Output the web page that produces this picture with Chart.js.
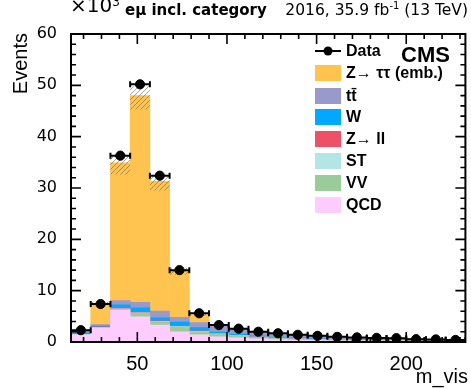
<!DOCTYPE html>
<html>
<head>
<meta charset="utf-8">
<script src="https://cdn.jsdelivr.net/npm/chart.js@4/dist/chart.umd.min.js"></script>
<style>
  html, body { margin: 0; padding: 0; background: #ffffff; }
  #wrap { width: 471px; height: 389px; }
</style>
</head>
<body>
<div id="wrap"><canvas id="c" width="471" height="389"></canvas></div>
<script>
// m_vis bin centres (GeV), 11 GeV wide bins
const binCenters = [18.5, 29.5, 40.5, 51.5, 62.5, 73.5, 84.5, 95.5, 106.5, 117.5,
                    128.5, 139.5, 150.5, 161.5, 172.5, 183.5, 194.5, 205.5, 216.5, 227.5];

// Observed events (x10^3)
const dataValues = [2.3, 7.4, 36.3, 50.2, 32.4, 14.0, 5.6, 3.3, 2.6, 2.0,
                    1.7, 1.4, 1.2, 1.0, 0.9, 0.8, 0.75, 0.55, 0.5, 0.4];

// Expected backgrounds (x10^3), listed bottom of the stack first
const qcdValues = [1.4, 2.7, 6.2, 4.9, 3.3, 2.0, 1.4, 1.0, 0.8, 0.6,
                   0.45, 0.35, 0.3, 0.25, 0.22, 0.2, 0.18, 0.15, 0.13, 0.12];
const vvValues  = [0.05, 0.1, 0.15, 0.7, 0.6, 0.9, 0.6, 0.5, 0.35, 0.3,
                   0.25, 0.2, 0.17, 0.14, 0.12, 0.1, 0.09, 0.08, 0.07, 0.06];
const stValues  = [0.05, 0.05, 0.1, 0.1, 0.1, 0.1, 0.1, 0.1, 0.1, 0.08,
                   0.07, 0.06, 0.05, 0.04, 0.04, 0.03, 0.03, 0.03, 0.02, 0.02];
const zllValues = [0.1, 0.1, 0.2, 0.15, 0.1, 0.1, 0.1, 0.05, 0.03, 0.02,
                   0.02, 0.02, 0.01, 0.01, 0.01, 0.01, 0.01, 0.01, 0.01, 0.01];
const wValues   = [0.2, 0.15, 0.6, 0.8, 0.6, 0.8, 0.6, 0.3, 0.25, 0.2,
                   0.15, 0.12, 0.1, 0.08, 0.07, 0.06, 0.05, 0.05, 0.04, 0.04];
const ttValues  = [0.4, 0.3, 0.8, 1.1, 1.3, 0.9, 1.0, 1.3, 1.0, 0.8,
                   0.7, 0.6, 0.52, 0.45, 0.4, 0.36, 0.33, 0.28, 0.24, 0.2];
const zttValues = [0.1, 4.2, 26.85, 40.25, 25.3, 9.1, 1.5, 0.2, 0.1, 0.05,
                   0.03, 0.02, 0.02, 0.01, 0.01, 0.01, 0.01, 0.01, 0.01, 0.0];

// Uncertainty on the total expectation (x10^3), upward and downward
const uncUp   = [0.05, 0.25, 1.2, 1.8, 1.1, 0.5, 0.15, 0.08, 0.06, 0.05,
                 0.04, 0.03, 0.03, 0.02, 0.02, 0.02, 0.02, 0.02, 0.01, 0.01];
const uncDown = [0.05, 0.35, 2.3, 2.7, 1.8, 0.8, 0.2, 0.1, 0.08, 0.06,
                 0.05, 0.04, 0.03, 0.03, 0.02, 0.02, 0.02, 0.02, 0.01, 0.01];

// Axis ticks
const xMajorTicks = [50, 100, 150, 200];
const yMajorTicks = [0, 10, 20, 30, 40, 50, 60];

const SANS = '"Liberation Sans", Arial, Helvetica, sans-serif';
const WIDE = '"DejaVu Sans", "Liberation Sans", sans-serif';

const stackDefs = [
  { label: 'QCD',            values: qcdValues, color: '#ffccff' },
  { label: 'VV',             values: vvValues,  color: '#99cc99' },
  { label: 'ST',             values: stValues,  color: '#b3e5e5' },
  { label: 'Z\u2192 ll',     values: zllValues, color: '#ee5068' },
  { label: 'W',              values: wValues,   color: '#00a8ff' },
  { label: 't\u0074\u0304',  values: ttValues,  color: '#9999cc' },
  { label: 'Z\u2192 \u03c4\u03c4 (emb.)', values: zttValues, color: '#fec44f' }
];

const binWidth = binCenters[1] - binCenters[0];

function stackTotal(i) {
  return stackDefs.reduce((s, d) => s + d.values[i], 0);
}

function makeHatch(ctx) {
  const c = document.createElement('canvas');
  c.width = 5; c.height = 5;
  const g = c.getContext('2d');
  g.strokeStyle = 'rgba(90,90,90,0.6)';
  g.lineWidth = 0.9;
  g.beginPath();
  g.moveTo(0, 5); g.lineTo(5, 0);
  g.moveTo(-1, 1); g.lineTo(1, -1);
  g.moveTo(4, 6); g.lineTo(6, 4);
  g.stroke();
  return ctx.createPattern(c, 'repeat');
}

// Uncertainty band and data error bars, drawn just before the data markers
const errorPlugin = {
  id: 'errors',
  beforeDatasetDraw(chart, args) {
    if (args.index !== 0) return;
    const { ctx, chartArea: a } = chart;
    const xs = chart.scales.x, ys = chart.scales.y;
    ctx.save();
    ctx.beginPath();
    ctx.rect(a.left, a.top, a.right - a.left, a.bottom - a.top);
    ctx.clip();
    ctx.fillStyle = makeHatch(ctx);
    binCenters.forEach((c, i) => {
      const tot = stackTotal(i);
      const l = xs.getPixelForValue(c - binWidth / 2);
      const r = xs.getPixelForValue(c + binWidth / 2);
      const t = ys.getPixelForValue(tot + uncUp[i]);
      const b = ys.getPixelForValue(Math.max(0, tot - uncDown[i]));
      ctx.fillRect(l, t, r - l, b - t);
    });
    ctx.strokeStyle = '#000';
    ctx.lineWidth = 2;
    binCenters.forEach((c, i) => {
      const v = dataValues[i];
      const l = xs.getPixelForValue(c - binWidth / 2);
      const r = xs.getPixelForValue(c + binWidth / 2);
      const x = xs.getPixelForValue(c);
      const y = ys.getPixelForValue(v);
      const e = Math.sqrt(v * 1000) / 1000;
      ctx.beginPath();
      ctx.moveTo(l, y); ctx.lineTo(r, y);
      ctx.moveTo(l, y - 3); ctx.lineTo(l, y + 3);
      ctx.moveTo(r, y - 3); ctx.lineTo(r, y + 3);
      ctx.moveTo(x, ys.getPixelForValue(v + e)); ctx.lineTo(x, ys.getPixelForValue(v - e));
      ctx.stroke();
    });
    ctx.restore();
  }
};

// Frame with inward ticks on all four sides
const framePlugin = {
  id: 'frame',
  afterDatasetsDraw(chart) {
    const { ctx, chartArea: a } = chart;
    const xs = chart.scales.x, ys = chart.scales.y;
    ctx.save();
    ctx.strokeStyle = '#000';
    ctx.lineWidth = 2;
    ctx.strokeRect(a.left, a.top, a.right - a.left, a.bottom - a.top);
    ctx.lineWidth = 1.6;
    ctx.beginPath();
    for (let v = 20; v <= 230; v += 10) {
      const x = xs.getPixelForValue(v);
      const len = xMajorTicks.includes(v) ? 10 : 5;
      ctx.moveTo(x, a.bottom); ctx.lineTo(x, a.bottom - len);
      ctx.moveTo(x, a.top); ctx.lineTo(x, a.top + len);
    }
    for (let v = 0; v <= 60; v += 2) {
      const y = ys.getPixelForValue(v);
      const len = yMajorTicks.includes(v) ? 10 : 5;
      ctx.moveTo(a.left, y); ctx.lineTo(a.left + len, y);
      ctx.moveTo(a.right, y); ctx.lineTo(a.right - len, y);
    }
    ctx.stroke();
    ctx.restore();
  }
};

// Titles, header and legend
const textPlugin = {
  id: 'texts',
  afterDraw(chart) {
    const { ctx, chartArea: a } = chart;
    ctx.save();
    ctx.fillStyle = '#000';
    ctx.textBaseline = 'alphabetic';

    // exponent of the y axis
    ctx.textAlign = 'left';
    ctx.font = '20px ' + WIDE;
    ctx.fillText('\u00d710', a.left - 1, 12);
    const w10 = ctx.measureText('\u00d710').width;
    ctx.font = '12px ' + WIDE;
    ctx.fillText('3', a.left - 1 + w10, 6);

    // category label
    ctx.font = 'bold 15px ' + WIDE;
    ctx.fillText('e\u03bc incl. category', 125, 15);

    // luminosity label, right aligned
    const parts = [['2016, 35.9 fb', '15.5px ' + WIDE, 15], ['-1', '10px ' + WIDE, 9], [' (13 TeV)', '15.5px ' + WIDE, 15]];
    let total = 0;
    parts.forEach(p => { ctx.font = p[1]; total += ctx.measureText(p[0]).width; });
    let x = 468 - total;
    parts.forEach(p => { ctx.font = p[1]; ctx.fillText(p[0], x, p[2]); x += ctx.measureText(p[0]).width; });

    // axis titles
    ctx.font = '20px ' + SANS;
    ctx.textAlign = 'right';
    ctx.fillText('m_vis', 468, 383);
    ctx.save();
    ctx.translate(27, a.top - 1);
    ctx.rotate(-Math.PI / 2);
    ctx.fillText('Events', 0, 0);
    ctx.restore();

    // CMS
    ctx.textAlign = 'left';
    ctx.font = 'bold 22px ' + SANS;
    ctx.fillText('CMS', 401, 62);

    // legend
    const rowY = [51, 73, 96, 117, 139, 161, 183, 205];
    const boxL = 315, boxW = 26, boxH = 16, textX = 346;
    ctx.font = 'bold 16px ' + SANS;
    ctx.textBaseline = 'middle';
    ctx.strokeStyle = '#000';
    ctx.lineWidth = 2;
    ctx.beginPath();
    ctx.moveTo(boxL, rowY[0]); ctx.lineTo(boxL + boxW, rowY[0]);
    ctx.stroke();
    ctx.beginPath();
    ctx.arc(boxL + boxW / 2, rowY[0], 4.5, 0, Math.PI * 2);
    ctx.fill();
    ctx.fillText('Data', textX, rowY[0] + 1);
    const order = stackDefs.slice().reverse();
    order.forEach((d, k) => {
      const y = rowY[k + 1];
      ctx.fillStyle = d.color;
      ctx.fillRect(boxL, y - boxH / 2, boxW, boxH);
      ctx.fillStyle = '#000';
      ctx.fillText(d.label, textX, y + 1);
    });
    ctx.restore();
  }
};

const datasets = [
  {
    type: 'scatter',
    label: 'Data',
    data: binCenters.map((c, i) => ({ x: c, y: dataValues[i] })),
    backgroundColor: '#000',
    borderColor: '#000',
    pointRadius: 4.6,
    pointHoverRadius: 4.6,
    stack: 'observed'
  }
].concat(stackDefs.map(d => ({
  type: 'bar',
  label: d.label,
  data: binCenters.map((c, i) => ({ x: c, y: d.values[i] })),
  backgroundColor: d.color,
  borderWidth: 0,
  barPercentage: 1.0,
  categoryPercentage: 1.0,
  stack: 'expected'
})));

new Chart(document.getElementById('c'), {
  data: { datasets },
  plugins: [errorPlugin, framePlugin, textPlugin],
  options: {
    responsive: false,
    animation: false,
    devicePixelRatio: 1,
    layout: { padding: { left: 0, top: 34, right: 5, bottom: 0 } },
    plugins: { legend: { display: false }, tooltip: { enabled: false } },
    scales: {
      x: {
        type: 'linear',
        min: 13,
        max: 233,
        offset: false,
        stacked: true,
        grid: { display: false },
        border: { display: false },
        afterBuildTicks(scale) { scale.ticks = xMajorTicks.map(v => ({ value: v })); },
        afterFit(scale) { scale.height = 47; },
        ticks: { color: '#000', font: { family: SANS, size: 20 }, padding: 2, maxRotation: 0, autoSkip: false }
      },
      y: {
        type: 'linear',
        min: 0,
        max: 60,
        stacked: true,
        grid: { display: false },
        border: { display: false },
        afterBuildTicks(scale) { scale.ticks = yMajorTicks.map(v => ({ value: v })); },
        afterFit(scale) { scale.width = 71; },
        ticks: { color: '#000', font: { family: WIDE, size: 16 }, padding: 6 }
      }
    }
  }
});
</script>
</body>
</html>
